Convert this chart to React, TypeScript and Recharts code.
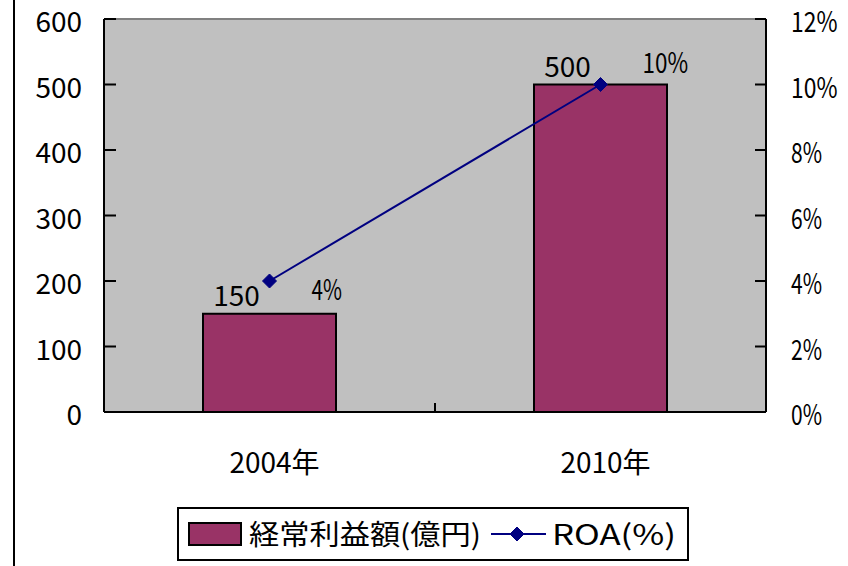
import React from 'react';
import {
  ComposedChart,
  Bar,
  Line,
  XAxis,
  YAxis,
  CartesianGrid,
  ReferenceLine,
  LabelList,
  Legend,
} from 'recharts';

const categories = ['2004年', '2010年'];
const profitValues = [150, 500];
const roaValues = [4, 10];
const leftTicks = [0, 100, 200, 300, 400, 500, 600];
const rightTicks = [0, 2, 4, 6, 8, 10, 12];
const barName = '経常利益額(億円)';
const lineName = 'ROA(%)';

const data = categories.map((c, i) => ({
  category: c,
  profit: profitValues[i],
  roa: roaValues[i],
}));

const FONT = "'Noto Sans CJK JP', 'Noto Sans', sans-serif";
const BAR_COLOR = '#993366';
const LINE_COLOR = '#000080';
const PLOT_BG = '#C0C0C0';

const LeftTick = (props: any) => {
  const { x, y, payload } = props;
  return (
    <g>
      <line x1={x} x2={x + 12} y1={y} y2={y} stroke="#000" strokeWidth={2} />
      <text x={x - 22} y={y + 13} textAnchor="end" fontFamily={FONT} fontSize={28} fill="#000">
        {payload.value}
      </text>
    </g>
  );
};

const RightTick = (props: any) => {
  const { x, y, payload } = props;
  const label = `${payload.value}%`;
  return (
    <g>
      <line x1={x - 11} x2={x} y1={y} y2={y} stroke="#000" strokeWidth={2} />
      <text
        x={x + 25}
        y={y + 13}
        textAnchor="start"
        fontFamily={FONT}
        fontSize={28}
        fill="#000"
        textLength={label.length * 15.5}
        lengthAdjust="spacingAndGlyphs"
      >
        {label}
      </text>
    </g>
  );
};

const XTick = (props: any) => {
  const { x, y, payload } = props;
  return (
    <text x={x + 5} y={y + 61} textAnchor="middle" fontFamily={FONT} fontSize={28} fill="#000">
      {payload.value}
    </text>
  );
};

const BarLabel = (props: any) => {
  const { x, y, width, value } = props;
  return (
    <text x={x + width / 2 - 33} y={y - 8} textAnchor="middle" fontFamily={FONT} fontSize={28} fill="#000">
      {value}
    </text>
  );
};

const LineLabel = (props: any) => {
  const { x, y, value, index } = props;
  const label = `${value}%`;
  const dy = index === 0 ? 19 : -12;
  return (
    <text
      x={x + 42}
      y={y + dy}
      textAnchor="start"
      fontFamily={FONT}
      fontSize={28}
      fill="#000"
      textLength={label.length * 15.2}
      lengthAdjust="spacingAndGlyphs"
    >
      {label}
    </text>
  );
};

const Diamond = (props: any) => {
  const { cx, cy } = props;
  if (cx == null || cy == null) return <g />;
  const s = 7;
  return (
    <polygon
      points={`${cx},${cy - s} ${cx + s},${cy} ${cx},${cy + s} ${cx - s},${cy}`}
      fill={LINE_COLOR}
      stroke={LINE_COLOR}
      strokeWidth={1}
    />
  );
};

const BoundaryTick = (props: any) => {
  const { x1, y1, y2 } = props;
  const yb = Math.max(y1, y2);
  return <line x1={x1} x2={x1} y1={yb} y2={yb - 9} stroke="#000" strokeWidth={2} />;
};

const LegendBox = () => (
  <svg width={512} height={54} style={{ display: 'block' }}>
    <rect x={1} y={1} width={510} height={52} fill="#fff" stroke="#000" strokeWidth={2} />
    <rect x={12} y={16} width={52} height={22} fill={BAR_COLOR} stroke="#000" strokeWidth={2} />
    <text
      x={72}
      y={37.5}
      fontFamily={FONT}
      fontSize={28}
      fill="#000"
      textLength={232}
      lengthAdjust="spacingAndGlyphs"
    >
      {barName}
    </text>
    <line x1={314} x2={369} y1={27} y2={27} stroke={LINE_COLOR} strokeWidth={2} />
    <Diamond cx={340} cy={27} />
    <text
      x={375}
      y={37.5}
      fontFamily={FONT}
      fontSize={28}
      fill="#000"
      textLength={124}
      lengthAdjust="spacingAndGlyphs"
    >
      {lineName}
    </text>
  </svg>
);

export default function App() {
  return (
    <div
      style={{
        position: 'absolute',
        left: 0,
        top: 0,
        width: 848,
        height: 566,
        background: '#fff',
        overflow: 'hidden',
      }}
    >
      <div style={{ position: 'absolute', left: 13, top: 0, width: 2, height: 566, background: '#000' }} />
      <div style={{ position: 'absolute', left: 0, top: 0 }}>
        <ComposedChart
          width={848}
          height={566}
          data={data}
          margin={{ top: 19, right: 0, left: 14, bottom: 94 }}
        >
          <CartesianGrid horizontal={false} vertical={false} fill={PLOT_BG} stroke="none" />
          <XAxis
            dataKey="category"
            height={60}
            tickLine={false}
            tickSize={0}
            tickMargin={0}
            axisLine={{ stroke: '#000', strokeWidth: 2 }}
            tick={<XTick />}
          />
          <YAxis
            width={90}
            domain={[0, 600]}
            ticks={leftTicks}
            tickLine={false}
            tickSize={0}
            tickMargin={0}
            axisLine={{ stroke: '#000', strokeWidth: 2 }}
            tick={<LeftTick />}
            allowDataOverflow
          />
          <YAxis
            yAxisId="right"
            orientation="right"
            width={82}
            domain={[0, 12]}
            ticks={rightTicks}
            tickLine={false}
            tickSize={0}
            tickMargin={0}
            axisLine={{ stroke: '#000', strokeWidth: 2 }}
            tick={<RightTick />}
            allowDataOverflow
          />
          <ReferenceLine y={600} stroke="#808080" strokeWidth={2} />
          <ReferenceLine x={categories[0]} position="end" shape={<BoundaryTick />} />
          <Bar
            dataKey="profit"
            name={barName}
            fill={BAR_COLOR}
            stroke="#000"
            strokeWidth={2}
            barSize={133}
            isAnimationActive={false}
          >
            <LabelList dataKey="profit" content={<BarLabel />} />
          </Bar>
          <Line
            yAxisId="right"
            dataKey="roa"
            name={lineName}
            stroke={LINE_COLOR}
            strokeWidth={2}
            dot={(p: any) => <Diamond key={`d-${p.index}`} {...p} />}
            activeDot={false}
            isAnimationActive={false}
          >
            <LabelList dataKey="roa" content={<LineLabel />} />
          </Line>
          <Legend
            layout="vertical"
            align="center"
            verticalAlign="middle"
            content={<LegendBox />}
            wrapperStyle={{ position: 'absolute', left: 177, top: 507, width: 512, height: 54 }}
          />
        </ComposedChart>
      </div>
    </div>
  );
}
